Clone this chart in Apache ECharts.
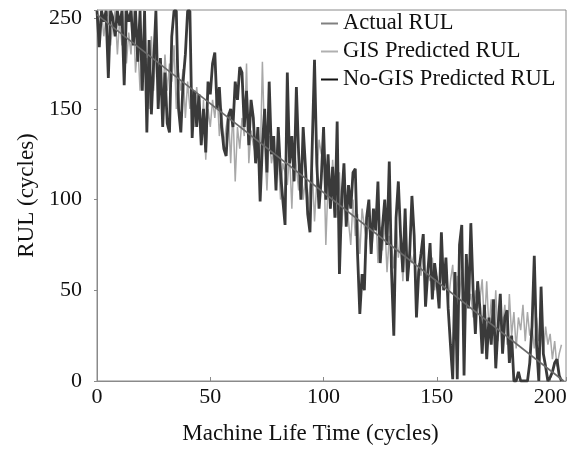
<!DOCTYPE html>
<html>
<head>
<meta charset="utf-8">
<script src="https://cdn.jsdelivr.net/npm/echarts@6/dist/echarts.min.js"></script>
<style>
html,body{margin:0;padding:0;background:#fff;}
#chart{width:583px;height:450px;}
</style>
</head>
<body>
<div id="chart"></div>
<script>
// Actual RUL: straight line between its end points
const actualRUL = [[0, 202], [206, 0]];

// No-GIS predicted RUL, one value per cycle (t = 0..205)
const noGisRUL = [
  204, 184, 204, 198, 204, 167, 204, 200, 190, 204,
  196, 204, 163, 204, 198, 204, 185, 204, 176, 204,
  160, 204, 137, 188, 147, 175, 204, 150, 178, 140,
  170, 142, 137, 190, 204, 204, 150, 137, 165, 180,
  204, 204, 134, 160, 140, 158, 130, 150, 126, 165,
  158, 175, 181, 150, 162, 140, 128, 124, 146, 150,
  140, 165, 155, 173, 170, 140, 160, 130, 155, 145,
  120, 140, 99, 130, 150, 115, 165, 125, 135, 105,
  140, 115, 100, 86, 170, 120, 135, 110, 162, 125,
  100, 140, 118, 92, 82, 130, 177, 120, 95, 112,
  140, 100, 125, 95, 118, 90, 143, 59, 100, 120,
  85, 108, 95, 115, 117, 70, 37, 59, 50, 90,
  100, 70, 95, 83, 110, 65, 85, 100, 75, 121,
  60, 25, 90, 110, 80, 60, 95, 55, 70, 102,
  80, 35, 60, 70, 81, 41, 60, 76, 45, 65,
  55, 40, 82, 50, 68, 40, 20, 1, 60, 1,
  75, 86, 3, 70, 40, 87, 50, 26, 55, 40,
  15, 42, 12, 35, 20, 45, 7, 30, 48, 15,
  35, 39, 10, 25, 0, 0, 5, 0, 0, 0,
  0, 10, 30, 69, 20, 0, 52, 15, 8, 0,
  2, 5, 10, 12, 3, 0
];

// GIS predicted RUL, one value per cycle (t = 0..205)
const gisRUL = [
  204, 195, 204, 190, 200, 204, 185, 198, 204, 180,
  200, 185, 204, 175, 192, 180, 204, 170, 186, 160,
  185, 170, 178, 150, 190, 160, 182, 172, 168, 155,
  180, 160, 175, 165, 185, 150, 170, 160, 172, 145,
  165, 150, 160, 140, 162, 148, 130, 155, 122, 150,
  140, 155, 145, 160, 135, 150, 130, 140, 148, 120,
  150, 110, 140, 128, 145, 135, 175, 120, 138, 130,
  125, 140, 118, 176, 130, 105, 135, 120, 128, 110,
  125, 100, 120, 115, 108, 125, 95, 130, 118, 105,
  120, 100, 112, 95, 108, 118, 88, 110, 133, 125,
  130, 75, 110, 95, 122, 100, 90, 115, 85, 105,
  98, 88, 75, 100, 80, 92, 70, 95, 85, 78,
  90, 70, 82, 95, 65, 85, 72, 88, 60, 80,
  75, 62, 90, 68, 78, 55, 82, 60, 72, 65,
  70, 50, 65, 58, 72, 48, 62, 55, 68, 50,
  58, 45, 62, 50, 66, 42, 55, 64, 40, 58,
  45, 60, 38, 52, 42, 48, 35, 50, 40, 45,
  56, 30, 55, 28, 45, 25, 50, 22, 40, 30,
  42, 20, 48, 25, 38, 18, 35, 28, 42, 22,
  38, 25, 30, 18, 35, 22, 28, 15, 30, 20,
  26, 12, 22, 8, 15, 20
];

// Tick labels as printed in the reference
const xTickValues = [0, 50, 100, 150, 200];
const xTickLabels = ['0', '50', '100', '150', '200'];
const yTickValues = [0, 50, 100, 150, 200];
const yTickLabels = ['0', '50', '100', '150', '250'];

const seriesNames = ['Actual RUL', 'GIS Predicted RUL', 'No-GIS Predicted RUL'];

const toPairs = arr => arr.map((v, i) => [i, v]);

const chart = echarts.init(document.getElementById('chart'));
const FF = 'Liberation Serif';

chart.setOption({
  animation: false,
  backgroundColor: '#ffffff',
  grid: {
    left: 97, right: 17, top: 10, bottom: 64,
    show: true, borderColor: '#8a8a8a', borderWidth: 1, backgroundColor: 'transparent'
  },
  legend: {
    data: seriesNames,
    orient: 'vertical',
    left: 321, top: 12,
    itemWidth: 17, itemHeight: 2,
    itemGap: 5,
    icon: 'rect',
    textStyle: {fontFamily: FF, fontSize: 22.5, color: '#111'},
    padding: 0
  },
  xAxis: {
    type: 'value', min: 0, max: 207, interval: 50,
    name: 'Machine Life Time (cycles)', nameLocation: 'middle', nameGap: 41,
    nameTextStyle: {fontFamily: FF, fontSize: 23, color: '#111', padding: [0, 42, 0, 0]},
    axisLine: {show: true, lineStyle: {color: '#8a8a8a', width: 1}},
    axisTick: {show: true, inside: true, length: 4, lineStyle: {color: '#8a8a8a'}},
    axisLabel: {
      fontFamily: FF, fontSize: 22, color: '#111', margin: 5,
      formatter: v => { const k = xTickValues.indexOf(v); return k >= 0 ? xTickLabels[k] : ''; }
    },
    splitLine: {show: false}
  },
  yAxis: {
    type: 'value', min: 0, max: 204.5, interval: 50,
    name: 'RUL (cycles)', nameLocation: 'middle', nameGap: 55,
    nameTextStyle: {fontFamily: FF, fontSize: 23, color: '#111'},
    axisLine: {show: true, lineStyle: {color: '#8a8a8a', width: 1}},
    axisTick: {show: true, inside: false, length: 3, lineStyle: {color: '#8a8a8a'}},
    axisLabel: {
      fontFamily: FF, fontSize: 22, color: '#111', margin: 15,
      formatter: v => { const k = yTickValues.indexOf(v); return k >= 0 ? yTickLabels[k] : ''; }
    },
    splitLine: {show: false}
  },
  series: [
    {
      name: 'GIS Predicted RUL', type: 'line', data: toPairs(gisRUL),
      showSymbol: false, symbol: 'none', clip: true,
      lineStyle: {color: '#a8a8a8', width: 1.5}, itemStyle: {color: '#b0b0b0'}, z: 2
    },
    {
      name: 'No-GIS Predicted RUL', type: 'line', data: toPairs(noGisRUL),
      showSymbol: false, symbol: 'none', clip: true,
      lineStyle: {color: '#3a3a3a', width: 2.8}, itemStyle: {color: '#111111'}, z: 3
    },
    {
      name: 'Actual RUL', type: 'line', data: actualRUL,
      showSymbol: false, symbol: 'none', clip: true,
      lineStyle: {color: '#6a6a6a', width: 1.6}, itemStyle: {color: '#808080'}, z: 4
    }
  ]
});
</script>
</body>
</html>
